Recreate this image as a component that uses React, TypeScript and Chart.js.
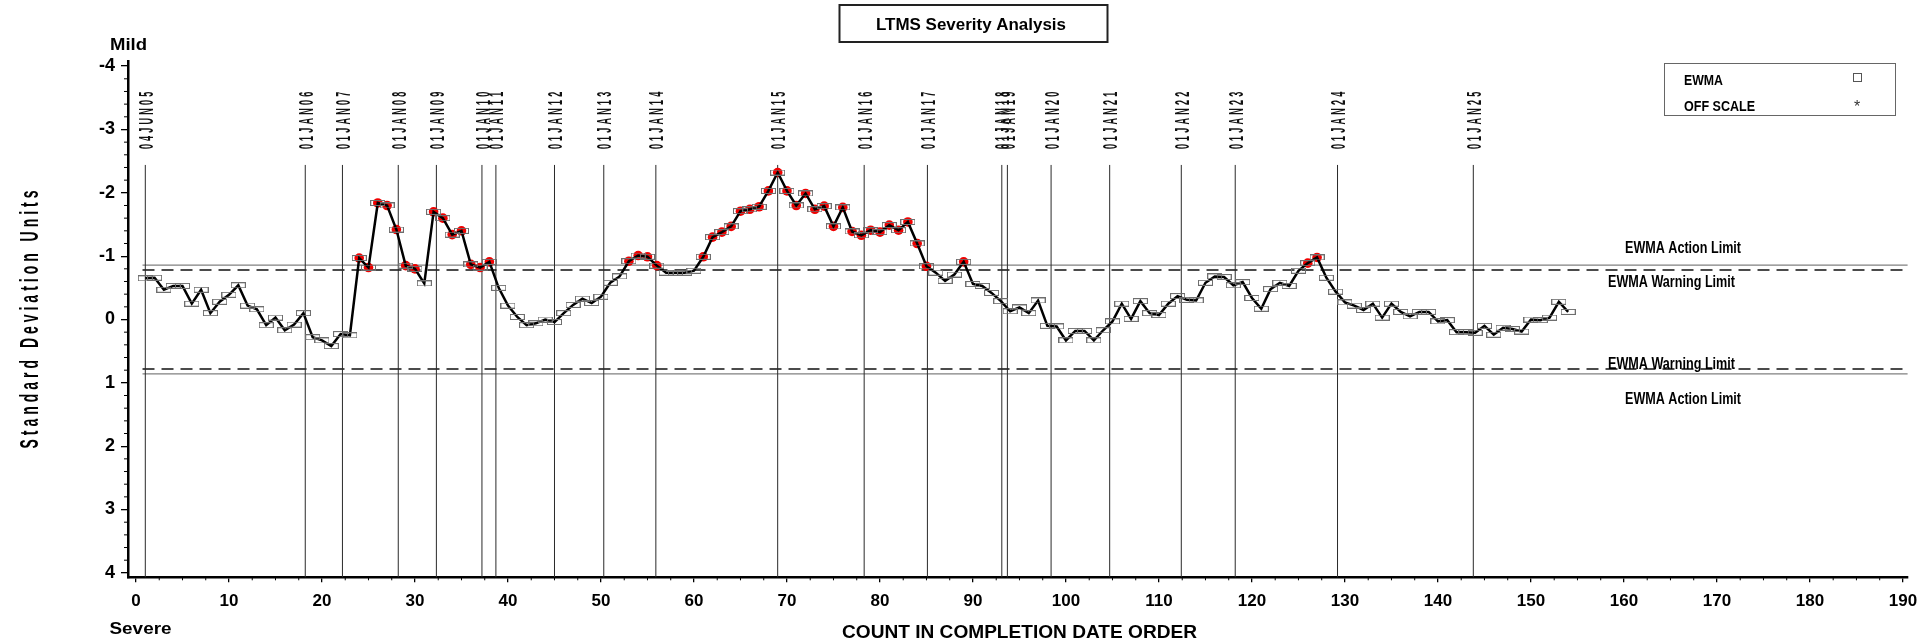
import React, { useEffect, useRef } from "react";
import { Chart, registerables } from "chart.js";

Chart.register(...registerables);

// ---------------- data ----------------
const EWMA: number[] = [
  -0.65, -0.66, -0.47, -0.53, -0.53, -0.25, -0.47, -0.10, -0.28, -0.39,
  -0.54, -0.22, -0.16, 0.09, -0.03, 0.17, 0.08, -0.10, 0.28, 0.33,
  0.42, 0.23, 0.25, -0.97, -0.82, -1.84, -1.80, -1.42, -0.85, -0.80,
  -0.57, -1.70, -1.60, -1.34, -1.40, -0.87, -0.82, -0.91, -0.50, -0.22,
  -0.04, 0.09, 0.06, 0.00, 0.04, -0.10, -0.23, -0.33, -0.26, -0.36,
  -0.58, -0.68, -0.92, -1.01, -0.99, -0.85, -0.74, -0.74, -0.74, -0.77,
  -0.99, -1.30, -1.38, -1.47, -1.71, -1.74, -1.78, -2.03, -2.32, -2.03,
  -1.80, -1.99, -1.74, -1.79, -1.47, -1.77, -1.39, -1.33, -1.41, -1.38,
  -1.49, -1.41, -1.54, -1.20, -0.84, -0.74, -0.61, -0.71, -0.91, -0.56,
  -0.53, -0.42, -0.29, -0.13, -0.19, -0.10, -0.30, 0.10, 0.11, 0.33,
  0.18, 0.18, 0.33, 0.17, 0.03, -0.25, -0.01, -0.29, -0.10, -0.07,
  -0.25, -0.37, -0.31, -0.30, -0.58, -0.68, -0.67, -0.54, -0.59, -0.34,
  -0.17, -0.48, -0.58, -0.53, -0.77, -0.89, -0.98, -0.66, -0.44, -0.27,
  -0.22, -0.15, -0.25, -0.03, -0.25, -0.12, -0.05, -0.12, -0.12, 0.03,
  0.01, 0.20, 0.20, 0.21, 0.10, 0.24, 0.13, 0.15, 0.19, 0.00,
  0.01, -0.03, -0.28, -0.12,
];

const WARNING_LIMIT = 0.78;
const ACTION_LIMIT = 0.86;

const DATE_MARK_COUNTS: number[] = [
  1, 18.2, 22.2, 28.2, 32.3, 37.2, 38.7, 45.0, 50.3, 55.9,
  69.0, 78.3, 85.1, 93.1, 93.7, 98.4, 104.7, 112.4, 118.2, 129.2, 143.8,
];
const DATE_MARK_LABELS: string[] = [
  "04JUN05", "01JAN06", "01JAN07", "01JAN08", "01JAN09", "01JAN10", "01JAN11",
  "01JAN12", "01JAN13", "01JAN14", "01JAN15", "01JAN16", "01JAN17", "01JAN18",
  "01JAN19", "01JAN20", "01JAN21", "01JAN22", "01JAN23", "01JAN24", "01JAN25",
];

const X_TICKS: number[] = [0, 10, 20, 30, 40, 50, 60, 70, 80, 90, 100, 110, 120, 130, 140, 150, 160, 170, 180, 190];
const Y_TICKS: number[] = [-4, -3, -2, -1, 0, 1, 2, 3, 4];
const X_MINOR_STEP = 2.5;
const Y_MINOR_STEP = 0.2;

const TITLE = "LTMS Severity Analysis";
const X_TITLE = "COUNT IN COMPLETION DATE ORDER";
const Y_TITLE = "Standard Deviation Units";
const LEGEND_ITEMS = ["EWMA", "OFF SCALE"];

// ---------------- layout constants ----------------
const FONT = "'Liberation Sans', Arial, Helvetica, sans-serif";
const X_MIN = -0.86;
const X_MAX = 190.5;
const Y_MIN = -4.07;
const Y_MAX = 4.07;
const LIMIT_START = 0.7;
const DATE_LINE_TOP = -2.44;
const DATE_LABEL_BASE = -2.69;

type TextOpts = {
  font: string;
  color?: string;
  align?: "left" | "center" | "right";
  width?: number;
  scaleX?: number;
  spacing?: number;
  rotate?: number;
};

function drawText(ctx: CanvasRenderingContext2D, text: string, x: number, y: number, o: TextOpts) {
  ctx.save();
  ctx.font = o.font;
  ctx.fillStyle = o.color || "#000";
  ctx.textBaseline = "alphabetic";
  ctx.textAlign = "left";
  const chars = Array.from(text);
  const sp = o.spacing || 0;
  const widths = chars.map((c) => ctx.measureText(c).width);
  const natural = sp === 0 ? ctx.measureText(text).width : widths.reduce((a, b) => a + b, 0);
  let sx = o.scaleX ?? 1;
  if (o.width) sx = (o.width - sp * (chars.length - 1)) / natural;
  const total = natural * sx + sp * (chars.length - 1);
  ctx.translate(x, y);
  if (o.rotate) ctx.rotate(o.rotate);
  const start = o.align === "center" ? -total / 2 : o.align === "right" ? -total : 0;
  if (sp === 0) {
    ctx.translate(start, 0);
    ctx.scale(sx, 1);
    ctx.fillText(text, 0, 0);
  } else {
    let cx = start;
    chars.forEach((c, i) => {
      ctx.save();
      ctx.translate(cx, 0);
      ctx.scale(sx, 1);
      ctx.fillText(c, 0, 0);
      ctx.restore();
      cx += widths[i] * sx + sp;
    });
  }
  ctx.restore();
}

function hLine(ctx: CanvasRenderingContext2D, x0: number, x1: number, y: number) {
  ctx.beginPath();
  ctx.moveTo(x0, y);
  ctx.lineTo(x1, y);
  ctx.stroke();
}

function makeBox(): HTMLCanvasElement {
  const c = document.createElement("canvas");
  c.width = 15;
  c.height = 6;
  const g = c.getContext("2d")!;
  g.strokeStyle = "#6e6e6e";
  g.lineWidth = 1;
  g.strokeRect(0.5, 0.5, 14, 5);
  return c;
}

const ltmsPlugin = {
  id: "ltms",
  beforeDatasetsDraw(chart: any) {
    const { ctx, chartArea } = chart;
    const xs = chart.scales.x;
    const ys = chart.scales.y;
    ctx.save();
    const x0 = xs.getPixelForValue(LIMIT_START);
    const x1 = chartArea.right;
    for (const sign of [-1, 1]) {
      ctx.setLineDash([]);
      ctx.strokeStyle = "#808080";
      ctx.lineWidth = 1.2;
      hLine(ctx, x0, x1, ys.getPixelForValue(sign * ACTION_LIMIT));
      ctx.setLineDash([12, 7]);
      ctx.strokeStyle = "#111";
      ctx.lineWidth = 1.5;
      hLine(ctx, x0, x1, ys.getPixelForValue(sign * WARNING_LIMIT));
    }
    ctx.setLineDash([]);
    ctx.strokeStyle = "#2a2a2a";
    ctx.lineWidth = 1;
    const top = ys.getPixelForValue(DATE_LINE_TOP);
    DATE_MARK_COUNTS.forEach((c) => {
      const px = xs.getPixelForValue(c);
      ctx.beginPath();
      ctx.moveTo(px, top);
      ctx.lineTo(px, chartArea.bottom);
      ctx.stroke();
    });
    ctx.restore();
  },
  afterDraw(chart: any) {
    const { ctx, chartArea } = chart;
    const xs = chart.scales.x;
    const ys = chart.scales.y;
    ctx.save();

    // minor ticks
    ctx.strokeStyle = "#000";
    ctx.lineWidth = 1;
    for (let v = Y_TICKS[0]; v <= Y_TICKS[Y_TICKS.length - 1] + 1e-9; v += Y_MINOR_STEP) {
      if (Math.abs(v - Math.round(v)) < 1e-6) continue;
      const py = ys.getPixelForValue(v);
      ctx.beginPath();
      ctx.moveTo(chartArea.left - 4, py);
      ctx.lineTo(chartArea.left, py);
      ctx.stroke();
    }
    for (let v = X_TICKS[0]; v <= X_TICKS[X_TICKS.length - 1] + 1e-9; v += X_MINOR_STEP) {
      if (Math.abs(v / 10 - Math.round(v / 10)) < 1e-6) continue;
      const px = xs.getPixelForValue(v);
      ctx.beginPath();
      ctx.moveTo(px, chartArea.bottom);
      ctx.lineTo(px, chartArea.bottom + 3);
      ctx.stroke();
    }

    // date labels (rotated, condensed, letter-spaced)
    const baseY = ys.getPixelForValue(DATE_LABEL_BASE);
    DATE_MARK_COUNTS.forEach((c, i) => {
      const px = xs.getPixelForValue(c);
      drawText(ctx, DATE_MARK_LABELS[i], px + 7.6, baseY, {
        font: `bold 21px ${FONT}`,
        scaleX: 0.43,
        spacing: 3.2,
        rotate: -Math.PI / 2,
        color: "#111",
      });
    });

    // limit labels
    const lf = `bold 16px ${FONT}`;
    drawText(ctx, "EWMA Action Limit", 1683, ys.getPixelForValue(-ACTION_LIMIT) - 12.5, { font: lf, width: 116, align: "center" });
    drawText(ctx, "EWMA Warning Limit", 1671.5, ys.getPixelForValue(-WARNING_LIMIT) + 17, { font: lf, width: 127, align: "center" });
    drawText(ctx, "EWMA Warning Limit", 1671.5, ys.getPixelForValue(WARNING_LIMIT) + 0.5, { font: lf, width: 127, align: "center" });
    drawText(ctx, "EWMA Action Limit", 1683, ys.getPixelForValue(ACTION_LIMIT) + 30.5, { font: lf, width: 116, align: "center" });

    // title box
    ctx.strokeStyle = "#222";
    ctx.lineWidth = 2;
    ctx.strokeRect(839.5, 5, 268, 37);
    drawText(ctx, TITLE, 971, 29.5, { font: `bold 17px ${FONT}`, width: 190, align: "center" });

    // legend
    ctx.strokeStyle = "#666";
    ctx.lineWidth = 1;
    ctx.strokeRect(1664.5, 63.5, 231, 52);
    drawText(ctx, LEGEND_ITEMS[0], 1684, 85, { font: `bold 14px ${FONT}`, width: 39 });
    drawText(ctx, LEGEND_ITEMS[1], 1684, 111, { font: `bold 14px ${FONT}`, width: 71 });
    ctx.strokeStyle = "#555";
    ctx.strokeRect(1853.5, 73.5, 8, 8);
    drawText(ctx, "*", 1857, 112, { font: `16px ${FONT}`, align: "center", color: "#333" });

    // severity words
    drawText(ctx, "Mild", 110, 50, { font: `bold 17px ${FONT}`, width: 37 });
    drawText(ctx, "Severe", 109.5, 634, { font: `bold 17px ${FONT}`, width: 62 });

    // axis titles
    drawText(ctx, X_TITLE, 1019.5, 638, { font: `bold 18px ${FONT}`, width: 355, align: "center" });
    const midY = (chartArea.top + chartArea.bottom) / 2;
    drawText(ctx, Y_TITLE, 38, midY, {
      font: `bold 25px ${FONT}`,
      width: 258,
      spacing: 4,
      rotate: -Math.PI / 2,
      align: "center",
    });

    ctx.restore();
  },
};

export default function App() {
  const canvasRef = useRef<HTMLCanvasElement | null>(null);

  useEffect(() => {
    const canvas = canvasRef.current;
    if (!canvas) return;
    const box = makeBox();
    const lineData = EWMA.map((v, i) => ({ x: i + 1, y: v }));
    const flagged = EWMA.map((v, i) => ({ x: i + 1, y: Math.abs(v) > WARNING_LIMIT ? v : null }));

    const chart = new Chart(canvas, {
      type: "line",
      data: {
        datasets: [
          {
            label: "EWMA",
            data: lineData as any,
            borderColor: "#000",
            borderWidth: 2.5,
            pointStyle: box as any,
            pointRadius: 3,
            tension: 0,
            fill: false,
            order: 1,
          },
          {
            label: "Beyond warning",
            data: flagged as any,
            showLine: false,
            pointRadius: 4.8,
            pointBackgroundColor: "rgb(240,0,0)",
            pointBorderColor: "rgb(240,0,0)",
            pointBorderWidth: 0,
            order: 2,
          },
        ],
      },
      options: {
        responsive: false,
        animation: false,
        devicePixelRatio: 1,
        layout: { padding: { left: 0, right: 21.4, top: 61.7, bottom: 0 } },
        plugins: {
          legend: { display: false },
          tooltip: { enabled: false },
          title: { display: false },
        },
        scales: {
          x: {
            type: "linear",
            min: X_MIN,
            max: X_MAX,
            afterBuildTicks: (s: any) => {
              s.ticks = X_TICKS.map((v) => ({ value: v }));
            },
            afterFit: (s: any) => {
              s.height = 65.7;
            },
            grid: { display: true, drawOnChartArea: false, drawTicks: true, tickLength: 5, color: "#000", lineWidth: 1.3 },
            border: { display: true, color: "#000", width: 2.5 },
            ticks: {
              color: "#000",
              padding: 9,
              maxRotation: 0,
              autoSkip: false,
              font: { family: FONT, size: 17, weight: "bold" },
              callback: (v: any) => String(v),
            },
          },
          y: {
            type: "linear",
            reverse: true,
            min: Y_MIN,
            max: Y_MAX,
            afterBuildTicks: (s: any) => {
              s.ticks = Y_TICKS.map((v) => ({ value: v }));
            },
            afterFit: (s: any) => {
              s.width = 128;
            },
            grid: { display: true, drawOnChartArea: false, drawTicks: true, tickLength: 7, color: "#000", lineWidth: 1.3 },
            border: { display: true, color: "#000", width: 2.5 },
            ticks: {
              color: "#000",
              padding: 6,
              autoSkip: false,
              font: { family: FONT, size: 18, weight: "bold" },
              callback: (v: any) => String(v),
            },
          },
        },
      } as any,
      plugins: [ltmsPlugin as any],
    });

    return () => {
      chart.destroy();
    };
  }, []);

  return (
    <div style={{ position: "absolute", left: 0, top: 0, width: 1929, height: 643, background: "#fff" }}>
      <canvas ref={canvasRef} width={1929} height={643} style={{ display: "block" }} />
    </div>
  );
}
